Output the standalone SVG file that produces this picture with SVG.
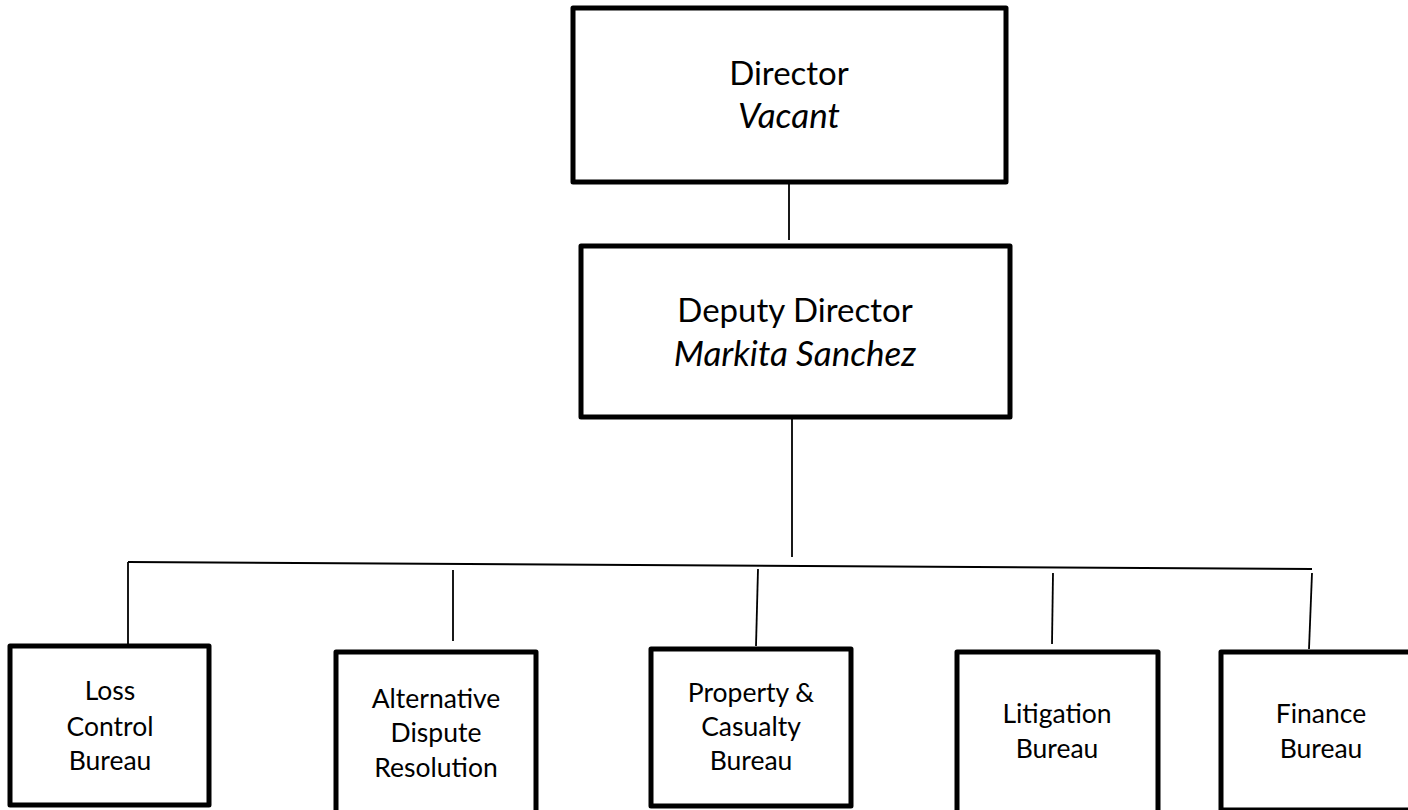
<svg xmlns="http://www.w3.org/2000/svg" width="1408" height="810" viewBox="0 0 1408 810">
<style>
  .box { fill: #ffffff; stroke: #000000; stroke-width: 5; stroke-linejoin: round; }
  .big { font-family: Lato, "Open Sans", "Liberation Sans", sans-serif; font-size: 33px; fill: #000; text-anchor: middle; }
  .small { font-family: Lato, "Open Sans", "Liberation Sans", sans-serif; font-size: 26.5px; fill: #000; text-anchor: middle; }
  .it { font-style: italic; font-size: 35px; }
  .conn line { stroke: #000; stroke-width: 1.8; }
</style>
<rect x="0" y="0" width="1408" height="810" fill="#ffffff"/>
<g id="connectors" class="conn">
  <line x1="789" y1="183" x2="789" y2="240"/>
  <line x1="792" y1="419" x2="792" y2="557"/>
  <line x1="128" y1="562" x2="1312" y2="569"/>
  <line x1="128" y1="562" x2="128" y2="645"/>
  <line x1="453" y1="570" x2="453" y2="641"/>
  <line x1="758" y1="569" x2="756" y2="646"/>
  <line x1="1053" y1="573" x2="1052" y2="644"/>
  <line x1="1312" y1="573" x2="1309" y2="649"/>
</g>
<g id="director">
  <rect class="box" x="573" y="8" width="433" height="174"/>
  <text class="big" x="789" y="85">Director</text>
  <text class="big it" x="789" y="128">Vacant</text>
</g>
<g id="deputy">
  <rect class="box" x="581" y="246" width="429" height="171"/>
  <text class="big" x="795" y="322">Deputy Director</text>
  <text class="big it" x="795" y="366">Markita Sanchez</text>
</g>
<g id="loss-control">
  <rect class="box" x="10" y="646" width="199" height="159"/>
  <text class="small" x="110" y="700">Loss</text>
  <text class="small" x="110" y="736">Control</text>
  <text class="small" x="110" y="770">Bureau</text>
</g>
<g id="adr">
  <rect class="box" x="336" y="652" width="200" height="162"/>
  <text class="small" x="436" y="708">Alternative</text>
  <text class="small" x="436" y="742">Dispute</text>
  <text class="small" x="436" y="777">Resolution</text>
</g>
<g id="property-casualty">
  <rect class="box" x="651" y="649" width="200" height="157"/>
  <text class="small" x="751" y="702">Property &amp;</text>
  <text class="small" x="751" y="736">Casualty</text>
  <text class="small" x="751" y="770">Bureau</text>
</g>
<g id="litigation">
  <rect class="box" x="957" y="652" width="201" height="162"/>
  <text class="small" x="1057" y="723">Litigation</text>
  <text class="small" x="1057" y="758">Bureau</text>
</g>
<g id="finance">
  <rect class="box" x="1221" y="652" width="204" height="158"/>
  <text class="small" x="1321" y="723">Finance</text>
  <text class="small" x="1321" y="758">Bureau</text>
</g>
</svg>
